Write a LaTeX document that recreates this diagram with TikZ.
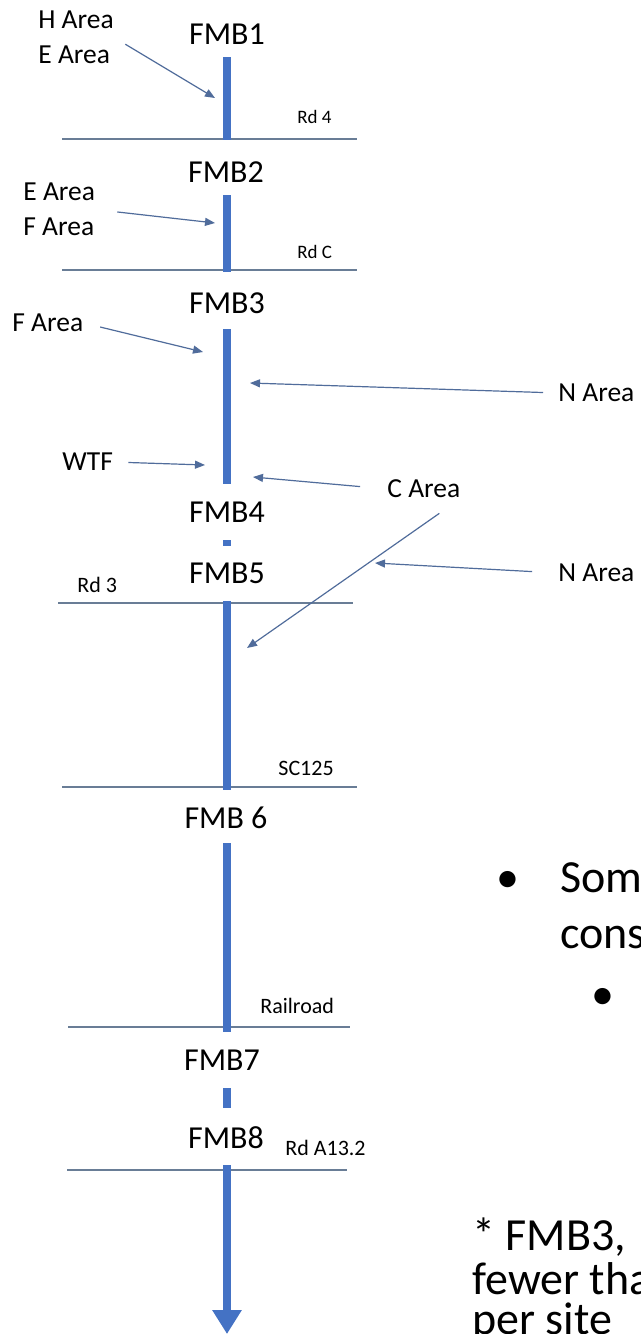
\documentclass[tikz,border=0pt]{standalone}
\usepackage{fontspec}
\setmainfont{Carlito}
\usetikzlibrary{
		arrows.meta
	}
\definecolor{barblue}{RGB}{68,114,196}
\definecolor{roadgray}{RGB}{105,125,150}
\definecolor{flowblue}{RGB}{80,108,155}
\tikzset{
		>={Triangle[length=5pt,width=4pt]},
		fmbbar/.style={barblue, line width=4pt},
		road/.style={roadgray, line width=0.6pt},
		flow/.style={flowblue, line width=0.6pt, ->},
		fmblabel/.style={inner sep=0pt, font=\fontsize{16}{19}\selectfont},
		arealabel/.style={inner sep=0pt, anchor=west, align=left, font=\fontsize{13.75}{17.5}\selectfont},
		rdlabel/.style={inner sep=0pt, anchor=west, font=\fontsize{11}{13}\selectfont},
		slidetext/.style={inner sep=0pt, anchor=base west, font=\fontsize{23}{28}\selectfont}
	}
\begin{document}
\begin{tikzpicture}[x=0.5pt, y=-0.5pt]
            \useasboundingbox (0,0) rectangle (641,1334);
            \clip (0,0) rectangle (641,1334);
            \fill[white] (0,0) rectangle (641,1334);

            \foreach \y/\xa/\xb in {139/62/357, 270/62/357, 603/58/353, 787/62/357, 1027/68/350, 1170/67/347}
            \draw[road] (\xa,\y) -- (\xb,\y);

            \foreach \ya/\yb in {57/140, 195/272, 329/484, 540/546, 601/790, 843/1032, 1088/1108}
            \draw[fmbbar] (227,\ya) -- (227,\yb);
            \draw[fmbbar, -{Triangle[width=14pt,length=12pt]}] (227,1165) -- (227,1334);

            \node[fmblabel] (fmb1) at (227,34) {FMB1};
            \node[fmblabel] (fmb2) at (226,172) {FMB2};
            \node[fmblabel] (fmb3) at (227,303) {FMB3};
            \node[fmblabel] (fmb4) at (227,512) {FMB4};
            \node[fmblabel] (fmb5) at (227,573) {FMB5};
            \node[fmblabel] (fmb6) at (226,818) {FMB 6};
            \node[fmblabel] (fmb7) at (222,1060) {FMB7};
            \node[fmblabel] (fmb8) at (226,1138) {FMB8};

            \node[rdlabel, font=\fontsize{9.5}{11}\selectfont] (rd4) at (297,117) {Rd 4};
            \node[rdlabel, font=\fontsize{9.5}{11}\selectfont] (rdc) at (297,252) {Rd C};
            \node[rdlabel] (rd3) at (77,585) {Rd 3};
            \node[rdlabel] (sc125) at (278,768) {SC125};
            \node[rdlabel] (railroad) at (260,1006) {Railroad};
            \node[rdlabel] (rda132) at (285,1148) {Rd A13.2};

            \node[arealabel] (hearea) at (38,37.5) {H Area\\E Area};
            \node[arealabel] (efarea) at (23,209.5) {E Area\\F Area};
            \node[arealabel] (farea) at (12,323) {F Area};
            \node[arealabel] (narea1) at (558,393) {N Area};
            \node[arealabel] (wtf) at (62,462) {WTF};
            \node[arealabel] (carea) at (387,489) {C Area};
            \node[arealabel] (narea2) at (558,573) {N Area};

            \coordinate (t1) at (215,98);
            \coordinate (t2) at (215,223);
            \coordinate (t3) at (203,352);
            \coordinate (t4) at (250,383);
            \coordinate (t5) at (205,465);
            \coordinate (t6) at (253,477);
            \coordinate (t7) at (247,648);
            \coordinate (t8) at (375,563);

            \draw[flow, shorten <=6.5pt] (hearea.east) -- (t1);
            \draw[flow, shorten <=11pt] (efarea.east) -- (t2);
            \draw[flow, shorten <=8.5pt] (farea.east) -- (t3);
            \draw[flow, shorten <=7.5pt] (narea1.west) -- (t4);
            \draw[flow, shorten <=7.5pt] (wtf.east) -- (t5);
            \draw[flow, shorten <=13.5pt] (carea.west) -- (t6);
            \draw[flow, shorten <=13pt] (carea.south east) -- (t7);
            \draw[flow, shorten <=13pt] (narea2.west) -- (t8);

            \node[slidetext, anchor=base] (bul1) at (508,892) {•};
            \node[slidetext] (some) at (560,892) {Som};
            \node[slidetext] (cons) at (560,948) {cons};
            \node[slidetext, anchor=base] (bul2) at (603,1009) {•};
            \node[slidetext] (note1) at (472,1250) {* FMB3,};
            \node[slidetext] (note2) at (472,1294) {fewer tha};
            \node[slidetext] (note3) at (472,1334) {per site};
        \end{tikzpicture}
\end{document}
